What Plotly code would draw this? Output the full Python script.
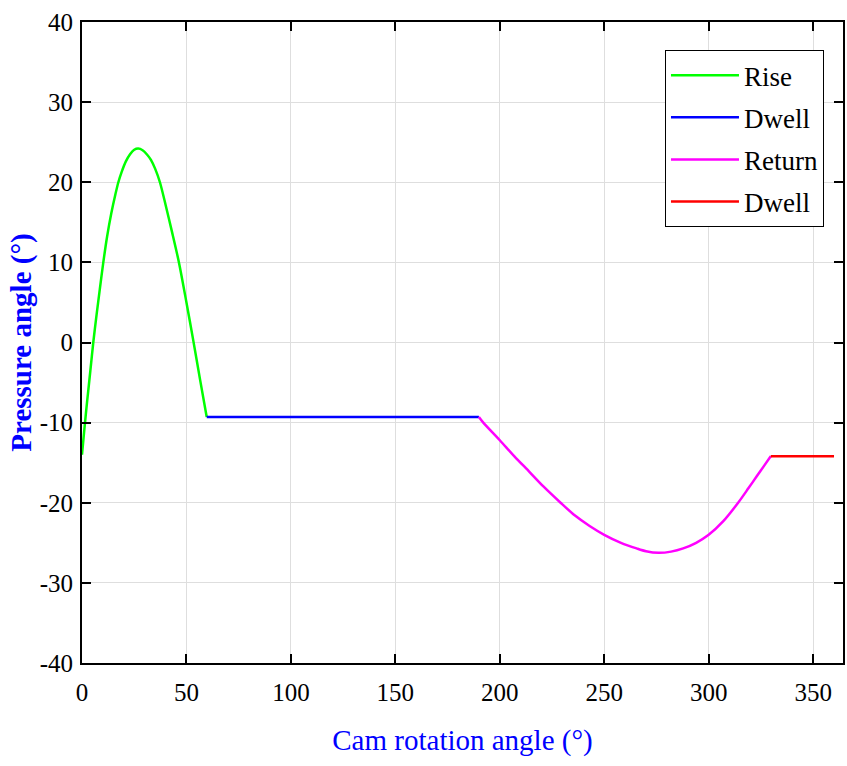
import plotly.graph_objects as go

# ---- data ----
rise_x = [0, 1, 2, 3, 4, 5.4, 7, 8.5, 10.2, 12, 14, 16, 17.4, 19, 21, 23, 25, 26.9,
          29, 31, 33, 35, 37.3, 40, 43, 46.4, 50, 53.3, 56.5, 59.7]
rise_y = [-14.0, -11.2, -8.5, -6.0, -3.5, 0.0, 3.5, 6.6, 10.0, 13.2, 16.1, 18.5, 20.0, 21.3, 22.6, 23.5, 24.05, 24.2,
          24.0, 23.5, 22.8, 21.7, 20.0, 17.2, 13.9, 10.0, 5.0, 0.2, -4.6, -9.3]

dwell1_x = [59.7, 190]
dwell1_y = [-9.3, -9.3]

return_x = [190, 192.1, 200, 207, 214.4, 221, 229.1, 236, 243, 250, 258, 265.5, 270, 276,
            282, 287.8, 294, 300, 307, 314.1, 319, 323, 326.5, 329.7]
return_y = [-9.3, -10.0, -12.2, -14.2, -16.2, -18.0, -20.0, -21.6, -22.9, -24.0, -25.0, -25.7, -26.05, -26.25,
            -26.1, -25.7, -25.0, -24.0, -22.3, -20.0, -18.2, -16.7, -15.4, -14.2]

dwell2_x = [329.7, 360]
dwell2_y = [-14.2, -14.2]

names = ["Rise", "Dwell", "Return", "Dwell"]
colors = ["#00ff00", "#0000ff", "#ff00ff", "#ff0000"]

x_ticks = [0, 50, 100, 150, 200, 250, 300, 350]
x_ticktext = ["0", "50", "100", "150", "200", "250", "300", "350"]
y_ticks = [-40, -30, -20, -10, 0, 10, 20, 30, 40]
y_ticktext = ["-40", "-30", "-20", "-10", "0", "10", "20", "30", "40"]

FONT = "Liberation Serif"

fig = go.Figure()
series = [(rise_x, rise_y), (dwell1_x, dwell1_y), (return_x, return_y), (dwell2_x, dwell2_y)]
for i, ((xs, ys), nm, c) in enumerate(zip(series, names, colors)):
    fig.add_trace(go.Scatter(
        x=xs, y=ys, mode="lines", name=nm,
        line=dict(color=c, width=2.5, shape="spline", smoothing=0.8),
        legendgroup=f"g{i}",
    ))

fig.update_layout(
    width=847, height=766,
    margin=dict(l=82, r=4, t=22, b=103),
    paper_bgcolor="white", plot_bgcolor="white",
    font=dict(family=FONT, size=25, color="black"),
    showlegend=True,
    legend=dict(
        x=0.975, y=0.956, xanchor="right", yanchor="top",
        bgcolor="white", bordercolor="black", borderwidth=1,
        font=dict(family=FONT, size=27, color="black"),
        traceorder="grouped", tracegroupgap=4, itemwidth=68,
    ),
)

fig.update_xaxes(
    range=[0, 364.3], automargin=False,
    tickvals=x_ticks, ticktext=x_ticktext,
    ticks="inside", ticklen=9, tickwidth=2, tickcolor="black",
    showline=True, linewidth=2, linecolor="black", mirror="ticks",
    showgrid=True, gridcolor="#dedede", gridwidth=1,
    zeroline=False, ticklabelstandoff=6,
    tickfont=dict(family=FONT, size=25, color="black"),
    title=dict(text="Cam rotation angle (°)", font=dict(family=FONT, size=29, color="#0000ff"), standoff=25),
)
fig.update_yaxes(
    range=[-40, 40], automargin=False,
    tickvals=y_ticks, ticktext=y_ticktext,
    ticks="inside", ticklen=9, tickwidth=2, tickcolor="black",
    showline=True, linewidth=2, linecolor="black", mirror="ticks",
    showgrid=True, gridcolor="#dedede", gridwidth=1,
    zeroline=False, ticklabelstandoff=2,
    tickfont=dict(family=FONT, size=25, color="black"),
    title=dict(text="<b>Pressure angle (°)</b>", font=dict(family=FONT, size=29, color="#0000ff"), standoff=0),
)

fig.write_html("out.html",
               config={"displayModeBar": False},
               post_script="document.body.style.margin='0px';document.body.style.overflow='hidden';")
